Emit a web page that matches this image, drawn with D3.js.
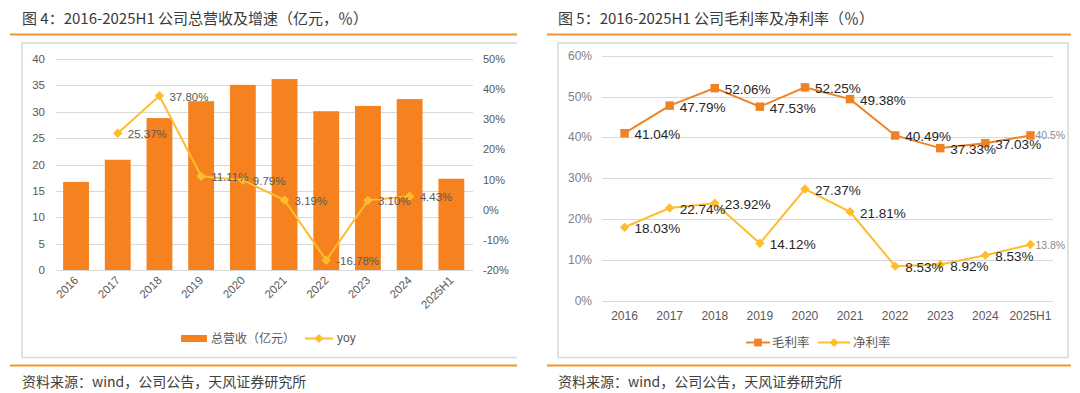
<!DOCTYPE html>
<html>
<head>
<meta charset="utf-8">
<script src="https://cdn.jsdelivr.net/npm/d3@7"></script>
<style>
body { margin: 0; background: #fff; }
text { font-family: "Liberation Sans", Arial, "Noto Sans CJK SC", sans-serif; }
.cjk { font-family: "Noto Sans CJK SC", "Liberation Sans", sans-serif; }
</style>
</head>
<body>
<script>
var svg_width = 1080;
var svg_height = 393;

// chart 1 data
var years = ["2016", "2017", "2018", "2019", "2020", "2021", "2022", "2023", "2024", "2025H1"];
var revenue = [16.7, 20.9, 28.8, 32.0, 35.1, 36.2, 30.1, 31.1, 32.4, 17.3];
var yoy = [null, 25.37, 37.80, 11.11, 9.79, 3.19, -16.78, 3.10, 4.43, null];
var yoyLabels = ["", "25.37%", "37.80%", "11.11%", "9.79%", "3.19%", "-16.78%", "3.10%", "4.43%", ""];
var leftTicks = [0, 5, 10, 15, 20, 25, 30, 35, 40];
var rightTicks = [-20, -10, 0, 10, 20, 30, 40, 50];

// chart 2 data
var grossMargin = [41.04, 47.79, 52.06, 47.53, 52.25, 49.38, 40.49, 37.4, 38.6, 40.5];
var grossLabels = ["41.04%", "47.79%", "52.06%", "47.53%", "52.25%", "49.38%", "40.49%", "37.33%", "37.03%", "40.5%"];
var netMargin = [18.03, 22.74, 23.92, 14.12, 27.37, 21.81, 8.53, 8.92, 11.2, 13.8];
var netLabels = ["18.03%", "22.74%", "23.92%", "14.12%", "27.37%", "21.81%", "8.53%", "8.92%", "8.53%", "13.8%"];
var marginTicks = [0, 10, 20, 30, 40, 50, 60];

var ORANGE = "#F5821F";
var YELLOW = "#FDBD2C";
var LINE_ORANGE = "#F39433";

var svg = d3.select("body").append("svg")
    .attr("width", svg_width)
    .attr("height", svg_height);

// ---- frames, titles, footers ----
function panel(x0, x1, title, frameLeft, frameRight, closed) {
    svg.append("line").attr("x1", x0).attr("x2", x1).attr("y1", 34.5).attr("y2", 34.5)
        .attr("stroke", LINE_ORANGE).attr("stroke-width", 2);
    svg.append("line").attr("x1", x0).attr("x2", x1).attr("y1", 365.5).attr("y2", 365.5)
        .attr("stroke", LINE_ORANGE).attr("stroke-width", 2);
    svg.append("path")
        .attr("d", closed
            ? "M" + frameLeft + ",43H" + frameRight + "V357.5H" + frameLeft + "Z"
            : "M" + frameRight + ",43H" + frameLeft + "V357.5H" + frameRight)
        .attr("fill", "none").attr("stroke", "#d9d9d9").attr("stroke-width", 1.5);
    svg.append("text").attr("class", "cjk").attr("x", frameLeft).attr("y", 24)
        .attr("font-size", 15).attr("fill", "#3a3a3a").attr("font-weight", 400)
        .text(title);
    svg.append("text").attr("class", "cjk").attr("x", frameLeft).attr("y", 387)
        .attr("font-size", 14).attr("fill", "#404040")
        .text("资料来源：wind，公司公告，天风证券研究所");
}
panel(10, 517, "图 4：2016-2025H1 公司总营收及增速（亿元，％）", 22, 517, false);
panel(547, 1071, "图 5：2016-2025H1 公司毛利率及净利率（％）", 558, 1068, true);

// ---- chart 1 ----
var x1 = d3.scaleBand().domain(years).range([55.2, 472.2]).paddingInner(0.38).paddingOuter(0.19);
var y1 = d3.scaleLinear().domain([0, 40]).range([270, 59]);
var y1r = d3.scaleLinear().domain([-20, 50]).range([270, 59]);

var g1 = svg.append("g");
g1.selectAll(".grid").data(leftTicks).enter().append("line")
    .attr("x1", 56).attr("x2", 473)
    .attr("y1", d => Math.round(y1(d)) + 0.5).attr("y2", d => Math.round(y1(d)) + 0.5)
    .attr("stroke", "#d9d9d9").attr("stroke-width", 1.2);

g1.selectAll(".lt").data(leftTicks).enter().append("text")
    .attr("x", 45).attr("y", d => y1(d) + 4)
    .attr("text-anchor", "end").attr("font-size", 11.5).attr("fill", "#595959")
    .text(d => d);
g1.selectAll(".rt").data(rightTicks).enter().append("text")
    .attr("x", 483).attr("y", d => y1r(d) + 4)
    .attr("font-size", 11).attr("fill", "#595959")
    .text(d => d + "%");

g1.selectAll("rect.bar").data(revenue).enter().append("rect")
    .attr("x", (d, i) => x1(years[i]))
    .attr("width", x1.bandwidth())
    .attr("y", d => y1(d))
    .attr("height", d => 270 - y1(d))
    .attr("fill", ORANGE);

g1.selectAll(".xl").data(years).enter().append("text")
    .attr("transform", d => "translate(" + (x1(d) + x1.bandwidth() / 2 + 3) + ",281) rotate(-45)")
    .attr("text-anchor", "end").attr("font-size", 11.5).attr("fill", "#595959")
    .text(d => d);

var yoyPts = yoy.map((v, i) => ({ v: v, x: x1(years[i]) + x1.bandwidth() / 2, label: yoyLabels[i] }))
    .filter(d => d.v !== null);
var line1 = d3.line().x(d => d.x).y(d => y1r(d.v));
g1.append("path").datum(yoyPts).attr("d", line1)
    .attr("fill", "none").attr("stroke", YELLOW).attr("stroke-width", 2);
g1.selectAll(".ym").data(yoyPts).enter().append("path")
    .attr("d", d3.symbol().type(d3.symbolSquare).size(45))
    .attr("transform", d => "translate(" + d.x + "," + y1r(d.v) + ") rotate(45)")
    .attr("fill", YELLOW);
g1.selectAll(".yl").data(yoyPts).enter().append("text")
    .attr("x", d => d.x + 10).attr("y", d => y1r(d.v) + 5)
    .attr("font-size", 11.5).attr("fill", "#595959")
    .text(d => d.label);

// legend 1
g1.append("rect").attr("x", 181).attr("y", 335).attr("width", 26).attr("height", 7).attr("fill", ORANGE);
g1.append("text").attr("class", "cjk").attr("x", 211).attr("y", 343)
    .attr("font-size", 12).attr("fill", "#595959").text("总营收（亿元）");
g1.append("line").attr("x1", 305).attr("x2", 333).attr("y1", 338.5).attr("y2", 338.5)
    .attr("stroke", YELLOW).attr("stroke-width", 2);
g1.append("path").attr("d", d3.symbol().type(d3.symbolSquare).size(40))
    .attr("transform", "translate(319,338.5) rotate(45)").attr("fill", YELLOW);
g1.append("text").attr("x", 337).attr("y", 342)
    .attr("font-size", 12).attr("fill", "#595959").text("yoy");

// ---- chart 2 ----
var x2 = d3.scaleBand().domain(years).range([602, 1053]);
var y2 = d3.scaleLinear().domain([0, 60]).range([301, 55.7]);
var g2 = svg.append("g");

g2.selectAll(".grid").data(marginTicks).enter().append("line")
    .attr("x1", 602).attr("x2", 1053)
    .attr("y1", d => Math.round(y2(d)) + 0.5).attr("y2", d => Math.round(y2(d)) + 0.5)
    .attr("stroke", "#d9d9d9").attr("stroke-width", 1.2);
g2.selectAll(".lt").data(marginTicks).enter().append("text")
    .attr("x", 592).attr("y", d => y2(d) + 4)
    .attr("text-anchor", "end").attr("font-size", 12).attr("fill", "#7f7f7f")
    .text(d => d + "%");
g2.selectAll(".xl").data(years).enter().append("text")
    .attr("x", d => x2(d) + x2.bandwidth() / 2).attr("y", 320)
    .attr("text-anchor", "middle").attr("font-size", 12).attr("fill", "#595959")
    .text(d => d);

function series(vals, labels, color, markerType) {
    var pts = vals.map((v, i) => ({ v: v, x: x2(years[i]) + x2.bandwidth() / 2, label: labels[i], last: i === vals.length - 1 }));
    g2.append("path").datum(pts)
        .attr("d", d3.line().x(d => d.x).y(d => y2(d.v)))
        .attr("fill", "none").attr("stroke", color).attr("stroke-width", 2);
    g2.selectAll(null).data(pts).enter().append("path")
        .attr("d", markerType === "square"
            ? d3.symbol().type(d3.symbolSquare).size(72)
            : d3.symbol().type(d3.symbolSquare).size(45))
        .attr("transform", d => "translate(" + d.x + "," + y2(d.v) + ")" + (markerType === "square" ? "" : " rotate(45)"))
        .attr("fill", color);
    g2.selectAll(null).data(pts).enter().append("text")
        .attr("x", d => d.x + (d.last ? 5 : 10)).attr("y", d => y2(d.v) + (d.last ? 4 : 6))
        .attr("font-size", d => d.last ? 10.5 : 13.5)
        .attr("fill", d => d.last ? "#8c8c8c" : "#262626")
        .text(d => d.label);
}
series(grossMargin, grossLabels, "#F08226", "square");
series(netMargin, netLabels, YELLOW, "diamond");

// legend 2
g2.append("line").attr("x1", 746).attr("x2", 770).attr("y1", 342.5).attr("y2", 342.5)
    .attr("stroke", "#F08226").attr("stroke-width", 2);
g2.append("path").attr("d", d3.symbol().type(d3.symbolSquare).size(60))
    .attr("transform", "translate(758,342.5)").attr("fill", "#F08226");
g2.append("text").attr("class", "cjk").attr("x", 772).attr("y", 347)
    .attr("font-size", 12.5).attr("fill", "#595959").text("毛利率");
g2.append("line").attr("x1", 818).attr("x2", 850).attr("y1", 342.5).attr("y2", 342.5)
    .attr("stroke", YELLOW).attr("stroke-width", 2);
g2.append("path").attr("d", d3.symbol().type(d3.symbolSquare).size(40))
    .attr("transform", "translate(834,342.5) rotate(45)").attr("fill", YELLOW);
g2.append("text").attr("class", "cjk").attr("x", 853).attr("y", 347)
    .attr("font-size", 12.5).attr("fill", "#595959").text("净利率");
</script>
</body>
</html>
